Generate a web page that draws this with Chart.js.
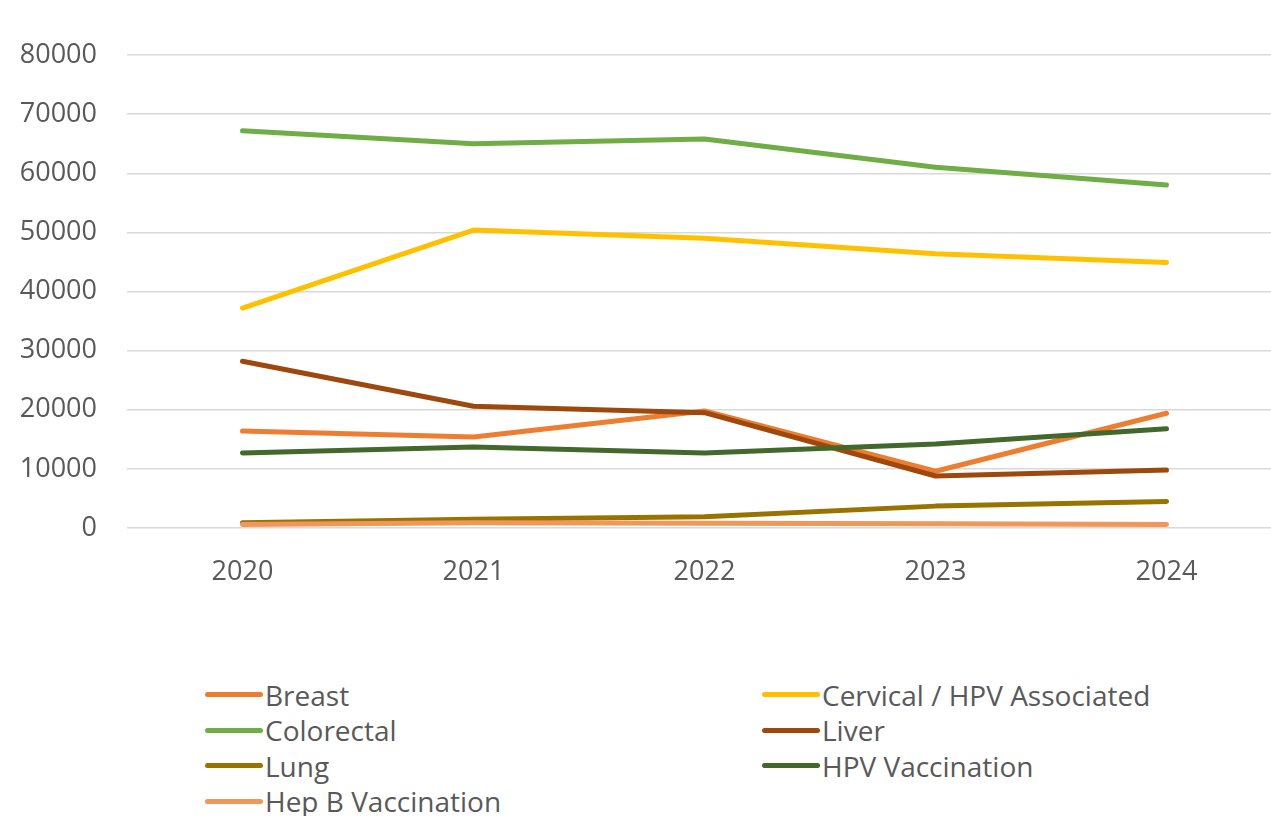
<!DOCTYPE html>
<html>
<head>
<meta charset="utf-8">
<script src="https://cdn.jsdelivr.net/npm/chart.js@4.4.1/dist/chart.umd.min.js"></script>
<style>
  body { margin: 0; background: #fff; overflow: hidden; font-family: "Open Sans", sans-serif; }
  #wrap { position: absolute; left: 0; top: 0; width: 1282px; height: 600px; }
  #legend { position: absolute; left: 205px; top: 677px; display: grid; grid-template-columns: 557px 420px; row-gap: 0; }
  .item { display: flex; align-items: center; height: 35.5px; font-size: 28px; color: #595959; white-space: nowrap; }
  .swatch { width: 58px; height: 5px; border-radius: 3px; margin-right: 2px; }
</style>
</head>
<body>
<div id="wrap"><canvas id="myChart"></canvas></div>
<div id="legend"></div>
<script>
const years = ['2020', '2021', '2022', '2023', '2024'];
const seriesNames = ['Breast', 'Cervical / HPV Associated', 'Colorectal', 'Liver', 'Lung', 'HPV Vaccination', 'Hep B Vaccination'];
const seriesColors = ['#ED7D31', '#FFC000', '#70AD47', '#9E480E', '#997300', '#43682B', '#F1975A'];

const breast = [16400, 15400, 19800, 9600, 19400];
const cervical = [37200, 50400, 49000, 46400, 44900];
const colorectal = [67200, 65000, 65800, 61000, 58000];
const liver = [28200, 20600, 19500, 8800, 9800];
const lung = [900, 1500, 1900, 3700, 4500];
const hpvVaccination = [12700, 13700, 12700, 14200, 16800];
const hepBVaccination = [600, 900, 800, 700, 600];

const allValues = [breast, cervical, colorectal, liver, lung, hpvVaccination, hepBVaccination];

const datasets = seriesNames.map((name, i) => ({
    label: name,
    data: allValues[i],
    borderColor: seriesColors[i],
    backgroundColor: seriesColors[i],
    borderWidth: 5,
    borderCapStyle: 'round',
    borderJoinStyle: 'round',
    pointRadius: 0,
    tension: 0,
    order: seriesNames.length - i
}));

const tickFont = { family: '"Open Sans", sans-serif', size: 27 };

new Chart(document.getElementById('myChart'), {
    type: 'line',
    data: { labels: years, datasets: datasets },
    options: {
        responsive: true,
        maintainAspectRatio: false,
        animation: false,
        layout: { padding: { top: 55, left: 0, right: 0, bottom: 0 } },
        plugins: { legend: { display: false }, tooltip: { enabled: false } },
        scales: {
            x: {
                offset: true,
                grid: { display: false },
                border: { display: false },
                ticks: { color: '#595959', font: tickFont, padding: 20 },
                afterFit: (scale) => { scale.height = 72; }
            },
            y: {
                min: 0,
                max: 80000,
                ticks: {
                    stepSize: 10000,
                    color: '#595959',
                    font: tickFont,
                    padding: 30,
                    callback: (v) => String(v)
                },
                grid: { color: '#D9D9D9', lineWidth: 1.5, drawTicks: false },
                border: { display: false },
                afterFit: (scale) => { scale.width = 127; }
            }
        }
    }
});

// legend in two columns, like the original
const legend = document.getElementById('legend');
seriesNames.forEach((name, i) => {
    const item = document.createElement('div');
    item.className = 'item';
    item.innerHTML = '<span class="swatch" style="background:' + seriesColors[i] + '"></span>' + name;
    legend.appendChild(item);
});
</script>
</body>
</html>
